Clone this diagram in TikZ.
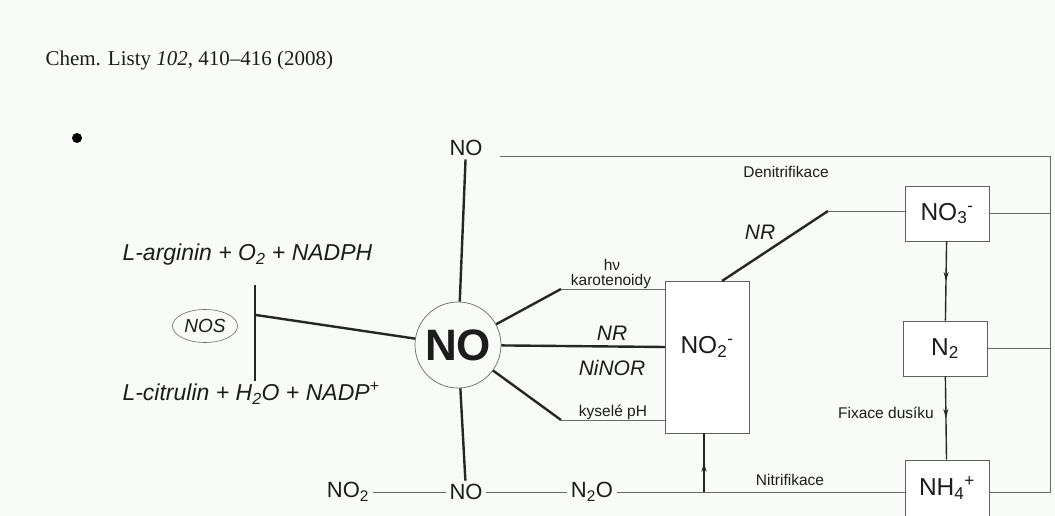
\documentclass[tikz,border=0pt]{standalone}
\usepackage{fontspec}
\setmainfont{Liberation Sans}
\newfontfamily\timesf{Liberation Serif}
\usetikzlibrary{shapes.geometric,decorations.markings,arrows.meta}
\definecolor{bg}{RGB}{248,251,248}
\definecolor{thickc}{RGB}{38,38,38}
\definecolor{thinc}{RGB}{105,105,105}
\definecolor{boxc}{RGB}{95,95,95}
\definecolor{txt}{RGB}{28,28,28}
\begin{document}
\begin{tikzpicture}[x=1pt,y=-1pt,
  fs/.style={font=\fontsize{#1}{#1}\selectfont, text=txt},
  fsi/.style={font=\fontsize{#1}{#1}\selectfont\itshape, text=txt},
  fsb/.style={font=\fontsize{#1}{#1}\selectfont\bfseries, text=txt},
  spoke/.style={line width=2.4pt, draw=thickc},
  vline/.style={line width=1.4pt, draw=thickc},
  thinln/.style={line width=0.9pt, draw=thinc},
  boxnode/.style={draw=boxc, line width=0.9pt, inner sep=0pt, fill=white},
  midarr/.style={postaction={decorate},
    decoration={markings, mark=at position 0.5 with {\arrow[thickc]{Stealth[length=9pt,width=5pt]}}}}
]
\fill[bg] (0,0) rectangle (1055,516);
\useasboundingbox (0,0) rectangle (1055,516);

% header and bullet
\node[anchor=west, font=\fontsize{21}{25}\selectfont\timesf, text=txt] (hdr) at (42,60)
  {Chem. Listy \textit{102}, 410–416 (2008)};
\node[circle, fill=black, minimum size=10pt, inner sep=0pt] (bul) at (77,138) {};

% NOS reaction
\node[fsi=23, anchor=west] (arg) at (119,255) {L-arginin + O\textsubscript{2} + NADPH};
\node[fsi=23, anchor=west] (cit) at (119,393) {L-citrulin + H\textsubscript{2}O + NADP\textsuperscript{+}};
\node[ellipse, draw=thinc, line width=0.6pt, minimum width=65pt, minimum height=33pt,
  inner sep=0pt, fsi=19] (nos) at (205,326) {NOS};
\coordinate (vT) at (255,285);
\coordinate (vB) at (255,381);
\coordinate (vJ) at (256,315);

% central NO
\node[circle, draw=thinc, line width=0.7pt, minimum size=86pt, inner sep=0pt, fsb=44] (no) at (458,345) {NO};
\node[fs=22] (topNO) at (466,148) {NO};

% NO2- box
\node[boxnode, minimum width=84pt, minimum height=152pt,
  label={[fs=24.5, yshift=10pt]center:NO\textsubscript{2}\textsuperscript{-}}] (no2) at (707,357) {};

% right boxes
\node[boxnode, minimum width=84pt, minimum height=55pt, fs=24.5] (no3) at (947,213.5) {NO\textsubscript{3}\textsuperscript{-}};
\node[boxnode, minimum width=84pt, minimum height=55pt, fs=24.5] (n2) at (945,348.5) {N\textsubscript{2}};
\node[boxnode, minimum width=84pt, minimum height=70pt,
  label={[fs=24.5, yshift=7pt]center:NH\textsubscript{4}\textsuperscript{+}}] (nh4) at (947,495) {};

% bottom row
\node[fs=22] (bno2) at (348,492) {NO\textsubscript{2}};
\node[fs=22] (bno) at (466,492) {NO};
\node[fs=22] (n2o) at (592,492) {N\textsubscript{2}O};

% labels
\node[fs=15.5] (hv) at (612,265) {hν};
\node[fs=15.5] (karo) at (611,281) {karotenoidy};
\node[fsi=21] (nra) at (612,333) {NR};
\node[fsi=21] (ninor) at (612,368) {NiNOR};
\node[fs=15.5] (ky) at (613,412) {kyselé pH};
\node[fsi=21] (nrb) at (760,232) {NR};
\node[fs=15.5] (den) at (786,172) {Denitrifikace};
\node[fs=15.5] (nit) at (790,480) {Nitrifikace};
\node[fs=15.5] (fix) at (886,413) {Fixace dusíku};

% coordinates
\coordinate (hvA) at (561,289);
\coordinate (kyA) at (561,420);
\coordinate (nrA) at (722,281);
\coordinate (nrB) at (828,211);
\coordinate (nitJ) at (704,492);
\coordinate (tA) at (500,156);
\coordinate (R1) at (1050,156);
\coordinate (R4) at (1050,492);
\coordinate (nrE) at (665,347);

% NOS connectors
\draw[spoke, line width=1.8pt] (vT) -- (vB);
\draw[spoke] (no) -- (vJ);

% spokes from NO
\draw[spoke] (no) -- (topNO);
\draw[spoke] (no) -- (hvA);
\draw[thinln] (hvA) -- (hvA -| no2.west);
\draw[spoke] (no) -- (nrE);
\draw[spoke] (no) -- (kyA);
\draw[thinln] (kyA) -- (kyA -| no2.west);
\draw[spoke] (no) -- (bno);

% NO2 -> NO3
\draw[spoke] (nrA) -- (nrB);
\draw[thinln] (nrB) -- (nrB -| no3.west);

% right frame
\draw[thinln] (tA) -- (R1) -- (R4) -- (nh4.east |- R4);
\draw[thinln] (no3.east) -- (no3.east -| R1);
\draw[thinln] (n2.east) -- (n2.east -| R1);

% vertical links
\draw[vline, midarr] (no3) -- (n2);
\draw[vline, midarr] (n2) -- (nh4);
\draw[vline, midarr] (nitJ) -- (nitJ |- no2.south);

% bottom row lines
\draw[thinln] (bno2) -- (bno);
\draw[thinln] (bno) -- (n2o);
\draw[thinln] (n2o) -- (n2o -| nh4.west);
\end{tikzpicture}
\end{document}
